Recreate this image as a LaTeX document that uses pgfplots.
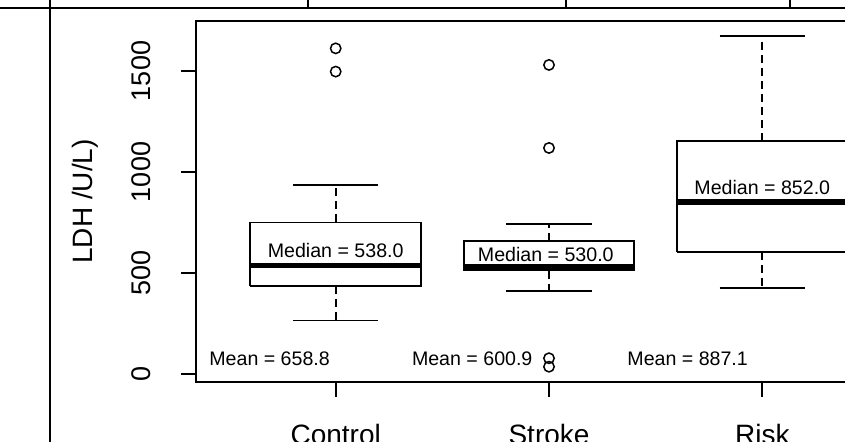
\documentclass[border=0pt]{standalone}
\usepackage{fontspec}
\setmainfont{Liberation Sans}
\usepackage{pgfplots}
\pgfplotsset{compat=1.18}
\newcommand{\annfont}{\fontsize{9.8}{11}\selectfont}
\begin{document}
\begin{tikzpicture}
\useasboundingbox (0,0) rectangle (422.5pt,221pt);
\clip (0,0) rectangle (422.5pt,221pt);
\begin{axis}[
  at={(98pt,30pt)}, anchor=south west,
  scale only axis, width=353pt, height=180.5pt,
  xmin=0.345, xmax=3.655, ymin=-39.6, ymax=1747.5,
  axis line style={line width=1pt},
  xtick={1,2,3}, xticklabels={Control,Stroke,Risk},
  ytick={0,500,1000,1500},
  /pgf/number format/assume math mode=true,
  /pgf/number format/1000 sep={},
  tick align=outside, tick pos=left,
  major tick length=7.5pt,
  tick style={black, line width=1pt},
  xticklabel style={font=\fontsize{14}{17}\selectfont, anchor=base, yshift=-24pt},
  yticklabel style={font=\fontsize{13.5}{16}\selectfont, xshift=-15pt, rotate=90, anchor=base},
  ylabel={LDH /U/L)},
  ylabel style={font=\fontsize{14}{17}\selectfont, at={(axis description cs:-0.146,0.5)}, anchor=base},
  unbounded coords=jump,
]
% boxes: Q1 to Q3
\addplot[black, line width=0.9pt] coordinates {(0.6,436) (1.4,436) (1.4,750) (0.6,750) (0.6,436)};
\addplot[black, line width=0.9pt] coordinates {(1.6,512) (2.4,512) (2.4,660) (1.6,660) (1.6,512)};
\addplot[black, line width=0.9pt] coordinates {(2.6,604) (3.4,604) (3.4,1153) (2.6,1153) (2.6,604)};
% medians
\addplot[black, line width=2.8pt] coordinates {(0.6,538) (1.4,538) (1.4,nan) (1.6,530) (2.4,530) (2.4,nan) (2.6,852) (3.4,852)};
% whiskers (dashed)
\addplot[black, line width=0.9pt, dash pattern=on 4pt off 2.5pt] coordinates {
  (1,750) (1,935) (1,nan) (1,436) (1,265) (1,nan)
  (2,660) (2,741) (2,nan) (2,512) (2,411) (2,nan)
  (3,1153) (3,1675) (3,nan) (3,604) (3,426)};
% whisker caps
\addplot[black, line width=0.9pt] coordinates {
  (0.8,935) (1.2,935) (1.2,nan) (0.8,265) (1.2,265) (1.2,nan)
  (1.8,741) (2.2,741) (2.2,nan) (1.8,411) (2.2,411) (2.2,nan)
  (2.8,1675) (3.2,1675) (3.2,nan) (2.8,426) (3.2,426)};
% outliers
\addplot[black, only marks, mark=o, mark size=2.6pt, mark options={line width=0.75pt}]
  coordinates {(1,1612) (1,1497) (2,1530) (2,1119) (2,78) (2,36)};
\node[font=\annfont, anchor=base, inner sep=0pt] at (axis cs:1,579) {Median = 538.0};
\node[font=\annfont, anchor=base, inner sep=0pt] at (axis cs:1.985,559) {Median = 530.0};
\node[font=\annfont, anchor=base, inner sep=0pt] at (axis cs:3,889) {Median = 852.0};
\node[font=\annfont, anchor=base, inner sep=0pt] at (axis cs:0.69,40) {Mean = 658.8};
\node[font=\annfont, anchor=base, inner sep=0pt] at (axis cs:1.64,40) {Mean = 600.9};
\node[font=\annfont, anchor=base, inner sep=0pt] at (axis cs:2.65,40) {Mean = 887.1};
\end{axis}
\draw[line width=1.4pt] (0,217pt) -- (422.5pt,217pt);
\draw[line width=1.4pt] (25pt,0) -- (25pt,221pt);
\draw[line width=1.4pt] (154pt,217pt) -- (154pt,221pt);
\draw[line width=1.4pt] (283pt,217pt) -- (283pt,221pt);
\draw[line width=1.4pt] (395pt,217pt) -- (395pt,221pt);
\end{tikzpicture}
\end{document}
